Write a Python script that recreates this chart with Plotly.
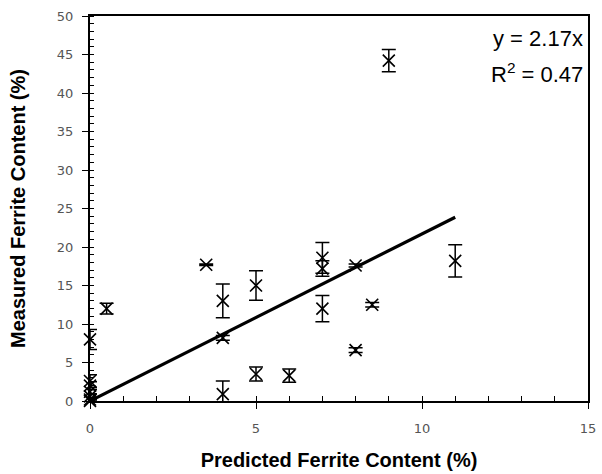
import plotly.graph_objects as go

# Predicted vs measured ferrite content (%), with measurement scatter (+/-)
predicted = [0, 0, 0, 0, 0, 0, 0, 0.5, 3.5, 4, 4, 4, 5, 5, 6, 7, 7, 7, 8, 8, 8.5, 9, 11]
measured = [8.0, 2.6, 2.0, 1.2, 0.6, 0.2, 0.0, 12.0, 17.7, 13.0, 8.2, 0.9, 15.0, 3.5, 3.3, 18.6, 17.2, 12.0, 17.6, 6.6, 12.5, 44.2, 18.2]
measured_err = [1.3, 0.8, 0.5, 0.3, 0.3, 0.2, 0.2, 0.7, 0.1, 2.2, 0.3, 1.7, 1.9, 0.9, 0.85, 2.0, 1.0, 1.7, 0.2, 0.3, 0.3, 1.45, 2.1]

# Linear fit through the origin
slope = 2.17
r_squared = 0.47
fit_x = [0, max(predicted)]
fit_y = [slope * v for v in fit_x]

fig = go.Figure()

fig.add_trace(go.Scatter(
    x=fit_x, y=fit_y, mode="lines",
    line=dict(color="black", width=3.2),
    hoverinfo="skip", showlegend=False, cliponaxis=False,
))

fig.add_trace(go.Scatter(
    x=predicted, y=measured, mode="markers",
    marker=dict(symbol="x-thin", size=12, color="black",
                line=dict(color="black", width=1.6)),
    error_y=dict(type="data", array=measured_err, visible=True,
                 color="black", thickness=1.5, width=7),
    showlegend=False, cliponaxis=False,
))

tick_font = dict(family="DejaVu Sans", size=13, color="#555555")
title_font = dict(family="Arial, Liberation Sans", size=20, color="black")
label_font = dict(family="Arial, Liberation Sans", size=22, color="black")

fig.update_layout(
    width=602, height=474,
    margin=dict(l=90, r=6, t=16, b=72),
    paper_bgcolor="white", plot_bgcolor="white",
    xaxis=dict(
        range=[0, 15], dtick=5, tick0=0,
        showgrid=False, zeroline=False,
        showline=True, linecolor="black", linewidth=2, mirror=True,
        ticks="outside", ticklen=6, tickwidth=1, tickcolor="black",
        minor=dict(ticks="inside", dtick=1, ticklen=5, tickwidth=1, tickcolor="black"),
        tickfont=tick_font, ticklabelstandoff=8, ticklabeloverflow="allow",
        title=dict(text="<b>Predicted Ferrite Content (%)</b>", font=title_font, standoff=18),
    ),
    yaxis=dict(
        range=[0, 50], dtick=5, tick0=0,
        showgrid=False, zeroline=False,
        showline=True, linecolor="black", linewidth=2, mirror=True,
        ticks="outside", ticklen=6, tickwidth=1, tickcolor="black",
        minor=dict(ticks="inside", dtick=1, ticklen=4, tickwidth=1, tickcolor="black"),
        tickfont=tick_font, ticklabelstandoff=6, ticklabeloverflow="allow",
        title=dict(text="<b>Measured Ferrite Content (%)</b>", font=title_font, standoff=26),
    ),
    annotations=[
        dict(text=f"y = {slope:.2f}x", xref="paper", yref="paper",
             x=1, y=0.942, xanchor="right", yanchor="middle", xshift=-3,
             showarrow=False, font=label_font),
        dict(text=f"R<sup>2</sup> = {r_squared:.2f}", xref="paper", yref="paper",
             x=1, y=0.852, xanchor="right", yanchor="middle", xshift=-3,
             showarrow=False, font=label_font),
    ],
)

fig.write_html("out.html")
